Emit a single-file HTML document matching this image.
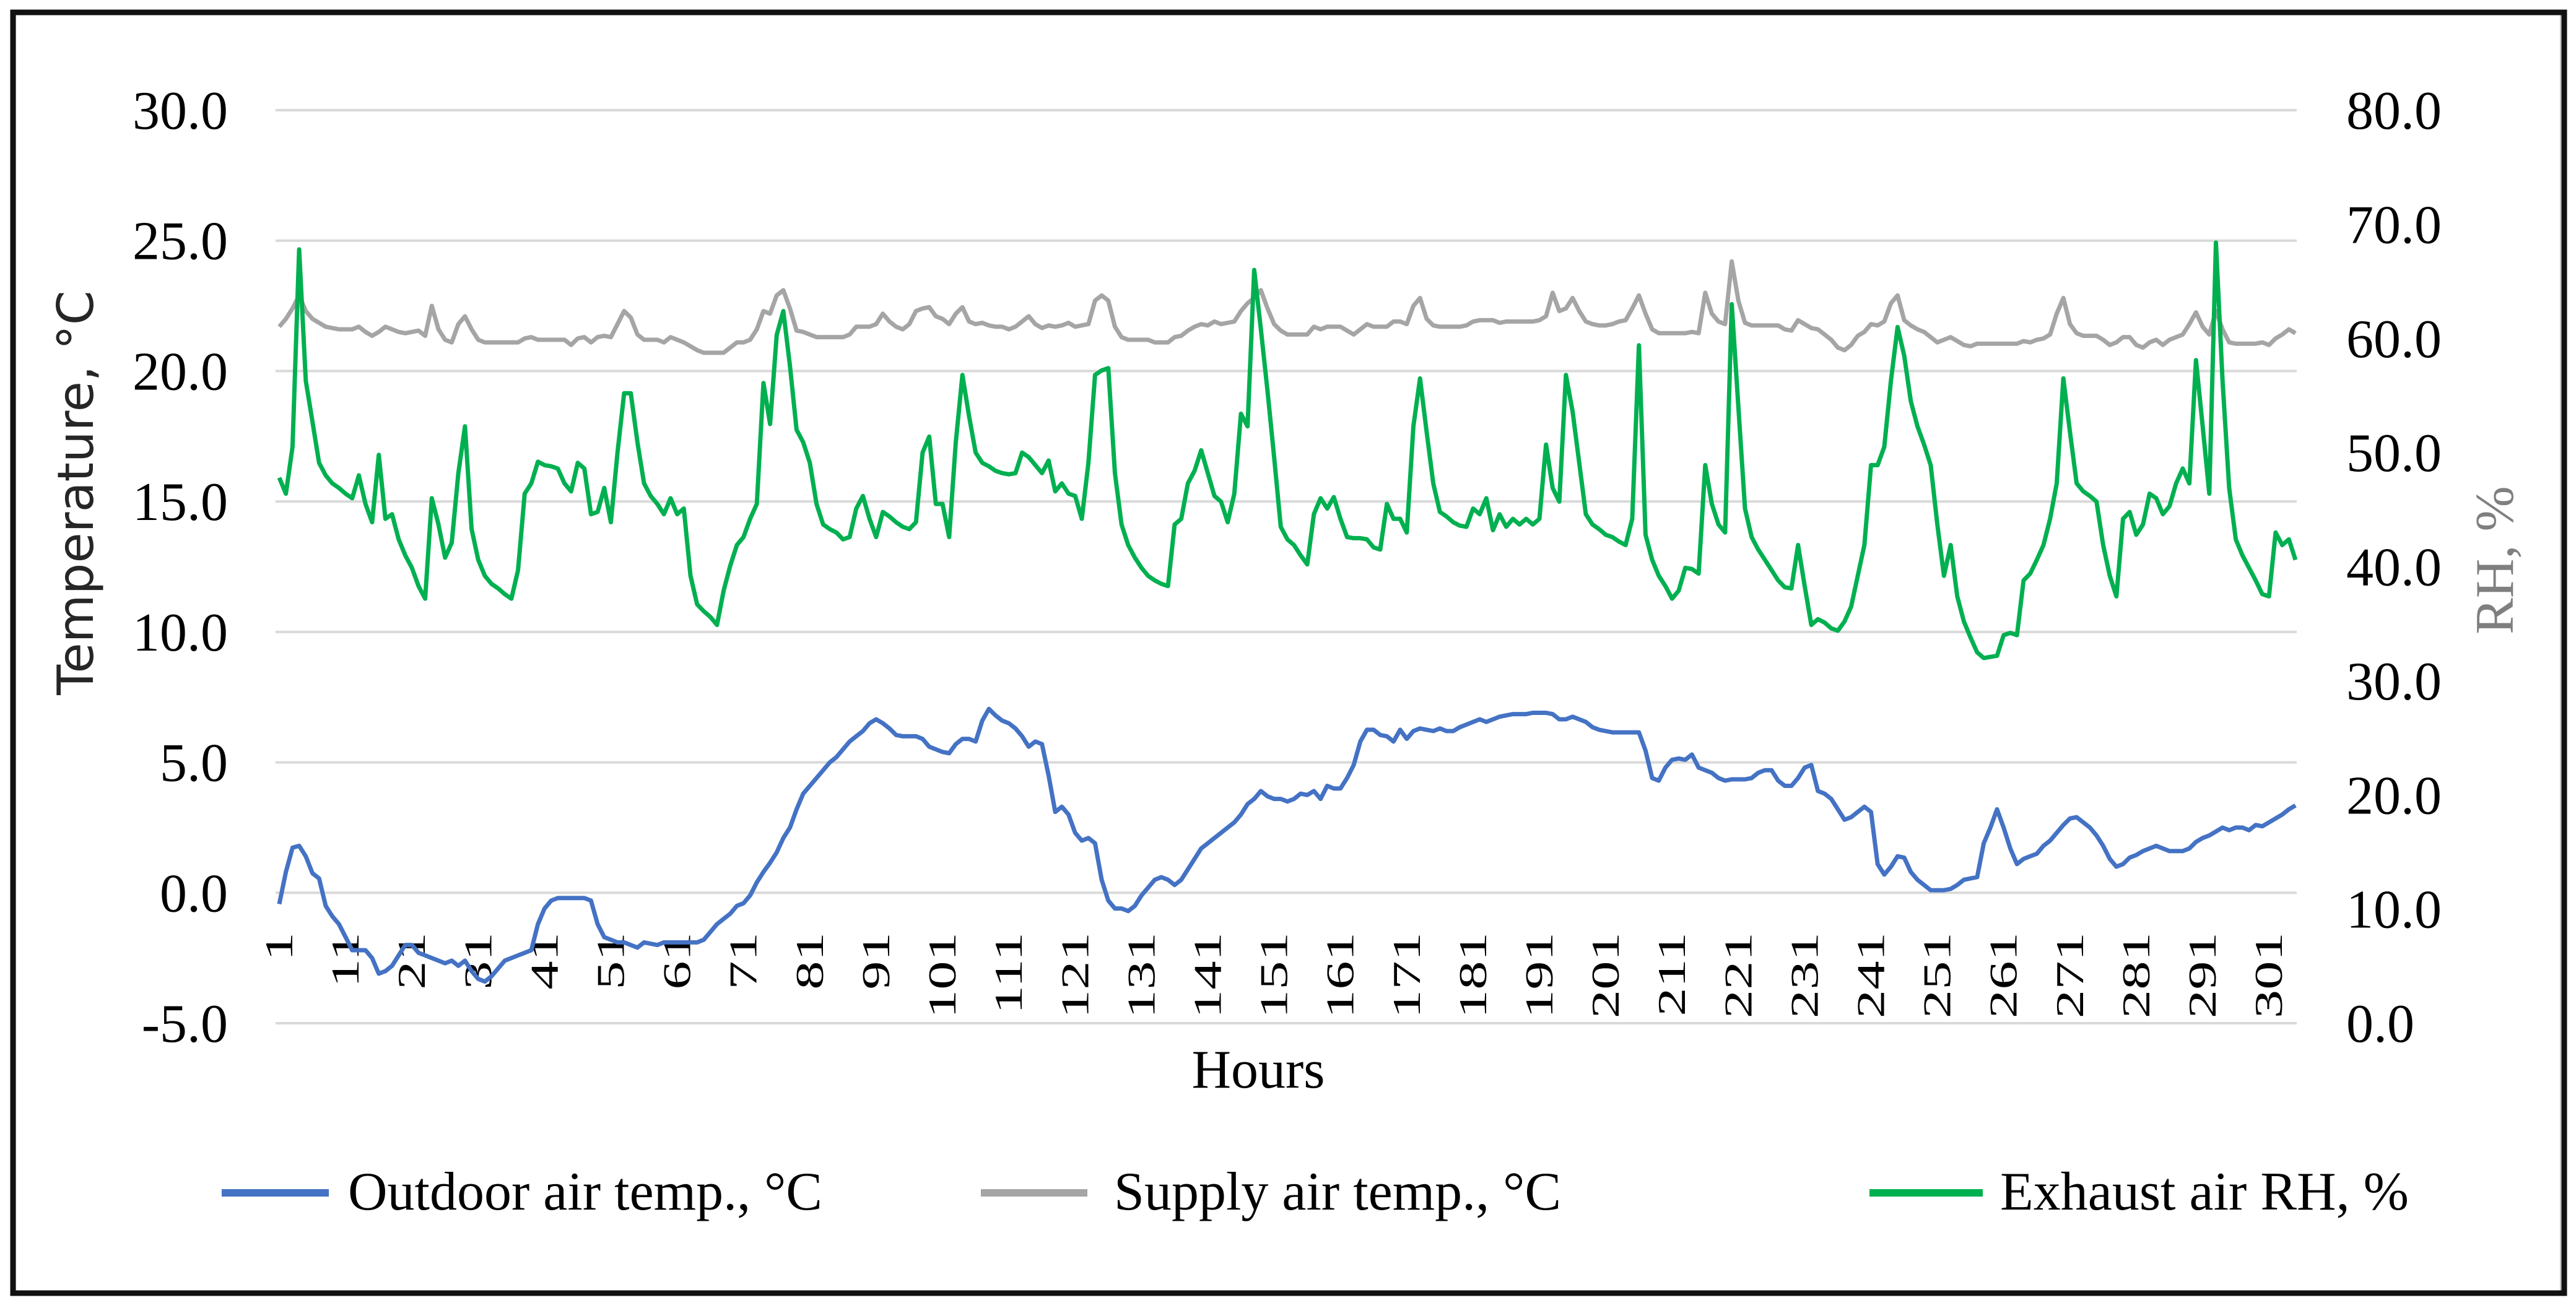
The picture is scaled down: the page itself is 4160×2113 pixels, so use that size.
<!DOCTYPE html>
<html><head><meta charset="utf-8"><style>
html,body{margin:0;padding:0;background:#fff;}
svg{display:block;}
</style></head><body>
<svg id="chart" width="4160" height="2113" viewBox="0 0 4160 2113" xmlns="http://www.w3.org/2000/svg">
<rect x="0" y="0" width="4160" height="2113" fill="#fff"/>
<rect x="24" y="22" width="4112" height="2065" fill="none" stroke="#c8c8c8" stroke-width="4"/>
<rect x="21" y="20" width="4120" height="2069" fill="none" stroke="#111" stroke-width="9"/>
<g id="grid"></g>
<g id="yl"></g>
<g id="yr"></g>
<g id="xl"></g>
<g id="series"></g>
<text transform="translate(150,796) rotate(-90)" text-anchor="middle" font-family="DejaVu Sans, sans-serif" font-size="80" fill="#262626">Temperature, °C</text>
<text transform="translate(4058,905) rotate(-90)" text-anchor="middle" font-family="Liberation Serif, serif" font-size="88" fill="#7f7f7f">RH, %</text>
<text x="2032" y="1757" text-anchor="middle" font-family="Liberation Serif, serif" font-size="88" fill="#000">Hours</text>
<g font-family="Liberation Serif, serif" font-size="88" fill="#000">
<g><line x1="358" y1="1927" x2="531" y2="1927" stroke="#4472c4" stroke-width="12"/><text x="562" y="1954">Outdoor air temp., °C</text></g>
<g><line x1="1584" y1="1927" x2="1756" y2="1927" stroke="#a5a5a5" stroke-width="12"/><text x="1799" y="1954">Supply air temp., °C</text></g>
<g><line x1="3019" y1="1927" x2="3202" y2="1927" stroke="#00b050" stroke-width="12"/><text x="3230" y="1954">Exhaust air RH, %</text></g>
</g>
</svg>
<script>
const tempTicks = [-5, 0, 5, 10, 15, 20, 25, 30];
const rhTicks = [0, 10, 20, 30, 40, 50, 60, 70, 80];
const outdoorTemp = [
-0.43,0.8,1.73,1.8,1.4,0.75,0.55,-0.5,-0.9,-1.2,
-1.7,-2.2,-2.2,-2.2,-2.5,-3.1,-3.0,-2.8,-2.4,-2.0,
-2.0,-2.3,-2.4,-2.5,-2.6,-2.7,-2.6,-2.8,-2.6,-3.0,
-3.3,-3.4,-3.2,-2.9,-2.6,-2.5,-2.4,-2.3,-2.2,-1.2,
-0.6,-0.3,-0.2,-0.2,-0.2,-0.2,-0.2,-0.3,-1.2,-1.7,
-1.8,-1.9,-1.9,-2.0,-2.1,-1.9,-1.95,-2.0,-1.9,-1.9,
-1.9,-1.9,-1.9,-1.9,-1.8,-1.5,-1.2,-1.0,-0.8,-0.5,
-0.4,-0.1,0.4,0.8,1.15,1.55,2.1,2.5,3.2,3.8,
4.1,4.4,4.7,5.0,5.2,5.5,5.8,6.0,6.2,6.5,
6.65,6.5,6.3,6.05,6.0,6.0,6.0,5.9,5.6,5.5,
5.4,5.35,5.7,5.9,5.9,5.8,6.6,7.05,6.8,6.6,
6.5,6.3,6.0,5.6,5.8,5.7,4.5,3.1,3.3,3.0,
2.3,2.0,2.1,1.9,0.5,-0.3,-0.6,-0.6,-0.7,-0.5,
-0.1,0.2,0.5,0.6,0.5,0.3,0.5,0.9,1.3,1.7,
1.9,2.1,2.3,2.5,2.7,3.0,3.4,3.6,3.9,3.7,
3.6,3.6,3.5,3.6,3.8,3.75,3.9,3.6,4.1,4.0,
4.0,4.4,4.9,5.8,6.25,6.25,6.05,6.0,5.8,6.25,
5.9,6.2,6.3,6.25,6.2,6.3,6.2,6.2,6.35,6.45,
6.55,6.65,6.55,6.65,6.75,6.8,6.85,6.85,6.85,6.9,
6.9,6.9,6.85,6.65,6.65,6.75,6.65,6.55,6.35,6.25,
6.2,6.15,6.15,6.15,6.15,6.15,5.45,4.4,4.3,4.8,
5.1,5.15,5.1,5.3,4.8,4.7,4.6,4.4,4.3,4.35,
4.35,4.35,4.4,4.6,4.7,4.7,4.3,4.1,4.1,4.4,
4.8,4.9,3.9,3.8,3.6,3.2,2.8,2.9,3.1,3.3,
3.1,1.1,0.7,1.0,1.4,1.35,0.8,0.5,0.3,0.1,
0.1,0.1,0.15,0.3,0.5,0.55,0.6,1.9,2.5,3.2,
2.5,1.7,1.1,1.3,1.4,1.5,1.8,2.0,2.3,2.6,
2.85,2.9,2.7,2.5,2.2,1.8,1.3,1.0,1.1,1.35,
1.45,1.6,1.7,1.8,1.7,1.6,1.6,1.6,1.7,1.95,
2.1,2.2,2.35,2.5,2.4,2.5,2.5,2.4,2.6,2.55,
2.7,2.85,3.0,3.2,3.35];
const supplyTemp = [
21.7,22.0,22.4,22.9,22.3,22.0,21.85,21.7,21.65,21.6,
21.6,21.6,21.7,21.5,21.35,21.5,21.7,21.6,21.5,21.45,
21.5,21.55,21.35,22.5,21.6,21.2,21.1,21.8,22.1,21.6,
21.2,21.1,21.1,21.1,21.1,21.1,21.1,21.25,21.3,21.2,
21.2,21.2,21.2,21.2,21.0,21.25,21.3,21.1,21.3,21.35,
21.3,21.8,22.3,22.05,21.4,21.2,21.2,21.2,21.1,21.3,
21.2,21.1,20.95,20.8,20.7,20.7,20.7,20.7,20.9,21.1,
21.1,21.2,21.6,22.3,22.2,22.9,23.1,22.4,21.55,21.5,
21.4,21.3,21.3,21.3,21.3,21.3,21.4,21.7,21.7,21.7,
21.8,22.2,21.9,21.7,21.6,21.8,22.3,22.4,22.45,22.1,
22.0,21.8,22.2,22.45,21.9,21.8,21.85,21.75,21.7,21.7,
21.6,21.7,21.9,22.1,21.8,21.65,21.75,21.7,21.75,21.85,
21.7,21.75,21.8,22.7,22.9,22.7,21.7,21.3,21.2,21.2,
21.2,21.2,21.1,21.1,21.1,21.3,21.35,21.55,21.7,21.8,
21.75,21.9,21.8,21.85,21.9,22.3,22.6,22.8,23.1,22.4,
21.8,21.55,21.4,21.4,21.4,21.4,21.7,21.6,21.7,21.7,
21.7,21.55,21.4,21.6,21.8,21.7,21.7,21.7,21.9,21.9,
21.8,22.5,22.8,22.0,21.75,21.7,21.7,21.7,21.7,21.75,
21.9,21.95,21.95,21.95,21.85,21.9,21.9,21.9,21.9,21.9,
21.95,22.1,23.0,22.3,22.4,22.8,22.3,21.9,21.8,21.75,
21.75,21.8,21.9,21.95,22.4,22.9,22.2,21.6,21.45,21.45,
21.45,21.45,21.45,21.5,21.45,23.0,22.2,21.9,21.8,24.2,
22.7,21.85,21.75,21.75,21.75,21.75,21.75,21.6,21.55,21.95,
21.8,21.65,21.6,21.4,21.2,20.9,20.8,21.0,21.35,21.5,
21.8,21.75,21.9,22.6,22.9,21.95,21.75,21.6,21.5,21.3,
21.1,21.2,21.3,21.15,21.0,20.95,21.05,21.05,21.05,21.05,
21.05,21.05,21.05,21.15,21.1,21.2,21.25,21.4,22.2,22.8,
21.8,21.45,21.35,21.35,21.35,21.2,21.0,21.1,21.3,21.3,
21.0,20.9,21.1,21.2,21.0,21.2,21.3,21.4,21.8,22.25,
21.7,21.4,22.3,21.6,21.1,21.05,21.05,21.05,21.05,21.1,
21.0,21.25,21.4,21.6,21.45];
const exhaustRH = [
47.8,46.4,50.5,67.8,56.3,52.7,49.1,48.0,47.3,46.9,
46.4,46.0,48.0,45.5,43.9,49.8,44.2,44.6,42.4,41.0,
39.9,38.3,37.2,46.0,43.7,40.8,42.1,48.2,52.3,43.3,
40.6,39.2,38.5,38.1,37.6,37.2,39.7,46.4,47.3,49.2,
48.9,48.8,48.6,47.3,46.6,49.1,48.6,44.6,44.8,46.9,
43.9,50.0,55.2,55.2,50.9,47.3,46.2,45.5,44.6,46.0,
44.6,45.1,39.2,36.7,36.1,35.6,34.9,37.9,40.1,41.9,
42.6,44.2,45.5,56.1,52.5,60.3,62.4,57.6,52.0,50.9,
49.1,45.5,43.7,43.3,43.0,42.4,42.6,45.1,46.2,44.2,
42.6,44.8,44.4,43.9,43.5,43.3,43.9,50.0,51.4,45.5,
45.5,42.6,50.9,56.8,53.2,50.0,49.1,48.8,48.4,48.2,
48.1,48.2,50.0,49.6,48.9,48.2,49.3,46.6,47.3,46.4,
46.2,44.2,49.1,56.8,57.2,57.4,48.2,43.7,41.9,40.8,
39.9,39.2,38.8,38.5,38.3,43.7,44.2,47.3,48.4,50.2,
48.2,46.2,45.7,43.9,46.4,53.4,52.3,66.0,60.8,55.4,
49.6,43.5,42.4,41.9,41.0,40.2,44.6,46.0,45.1,46.1,
44.2,42.6,42.5,42.5,42.4,41.7,41.5,45.5,44.2,44.2,
43.0,52.3,56.5,51.8,47.3,44.8,44.4,43.9,43.6,43.5,
45.1,44.6,46.0,43.2,44.6,43.5,44.2,43.7,44.2,43.7,
44.2,50.7,46.9,45.7,56.8,53.6,49.1,44.6,43.7,43.3,
42.8,42.6,42.2,41.9,44.2,59.4,42.8,40.6,39.2,38.3,
37.2,37.9,39.9,39.8,39.4,48.9,45.5,43.7,43.0,63.0,
54.0,45.1,42.6,41.5,40.6,39.7,38.8,38.2,38.1,41.9,
38.3,34.9,35.4,35.1,34.6,34.4,35.2,36.5,39.2,41.9,
48.9,48.9,50.5,56.3,61.0,58.5,54.5,52.3,50.7,48.9,
43.7,39.2,41.9,37.4,35.2,33.8,32.5,32.0,32.1,32.2,
34.0,34.2,34.0,38.8,39.4,40.6,41.9,44.2,47.3,56.5,
51.8,47.3,46.6,46.2,45.7,41.9,39.2,37.4,44.2,44.8,
42.8,43.7,46.4,46.0,44.6,45.3,47.3,48.6,47.3,58.1,
52.3,46.4,68.4,56.3,46.9,42.4,41.0,39.9,38.8,37.6,
37.4,43.0,41.9,42.4,40.6];
const hours = outdoorTemp.map((v, i) => i + 1);

const NS = 'http://www.w3.org/2000/svg';
const X0 = 451, X1 = 3707, GX0 = 445, GX1 = 3709;
const YTOP = 178, YBOT = 1653;
function xPos(i) { return X0 + (X1 - X0) * i / (hours.length - 1); }
function yTemp(t) { return YBOT - (t - (-5)) / 35 * (YBOT - YTOP); }
function yRH(r) { return YBOT - r / 80 * (YBOT - YTOP); }

const grid = document.getElementById('grid');
const yl = document.getElementById('yl');
tempTicks.forEach(t => {
  const ln = document.createElementNS(NS, 'line');
  
  
  ln.setAttribute('x1', GX0); ln.setAttribute('x2', GX1);
  ln.setAttribute('y1', yTemp(t)); ln.setAttribute('y2', yTemp(t));
  ln.setAttribute('stroke', '#d9d9d9'); ln.setAttribute('stroke-width', '4');
  grid.appendChild(ln);
  const tx = document.createElementNS(NS, 'text');
  
  
  tx.setAttribute('x', 368); tx.setAttribute('y', yTemp(t) + 30);
  tx.setAttribute('text-anchor', 'end');
  tx.setAttribute('font-family', 'Liberation Serif, serif');
  tx.setAttribute('font-size', '88');
  tx.textContent = t.toFixed(1);
  yl.appendChild(tx);
});
const yr = document.getElementById('yr');
rhTicks.forEach(r => {
  const tx = document.createElementNS(NS, 'text');
  
  
  tx.setAttribute('x', 3789); tx.setAttribute('y', yRH(r) + 30);
  tx.setAttribute('font-family', 'Liberation Serif, serif');
  tx.setAttribute('font-size', '88');
  tx.textContent = r.toFixed(1);
  yr.appendChild(tx);
});
const xl = document.getElementById('xl');
hours.forEach((h, i) => {
  if ((h - 1) % 10 !== 0) return;
  const tx = document.createElementNS(NS, 'text');
  
  
  const x = xPos(i) + 21;
  tx.setAttribute('transform', 'translate(' + x + ',1506) rotate(-90) scale(1.45,1)');
  tx.setAttribute('text-anchor', 'end');
  tx.setAttribute('font-family', 'Liberation Serif, serif');
  tx.setAttribute('font-size', '64');
  tx.textContent = String(h);
  xl.appendChild(tx);
});
const series = document.getElementById('series');
function addLine(vals, yf, color, name) {
  const p = document.createElementNS(NS, 'polyline');
  
  
  p.setAttribute('points', vals.map((v, i) => xPos(i).toFixed(1) + ',' + yf(v).toFixed(1)).join(' '));
  p.setAttribute('fill', 'none');
  p.setAttribute('stroke', color);
  p.setAttribute('stroke-width', '7');
  p.setAttribute('stroke-linejoin', 'round');
  series.appendChild(p);
}
addLine(supplyTemp, yTemp, '#a5a5a5', 'supply-air-temp-line');
addLine(exhaustRH, yRH, '#00b050', 'exhaust-air-rh-line');
addLine(outdoorTemp, yTemp, '#4472c4', 'outdoor-air-temp-line');
</script>
</body></html>
